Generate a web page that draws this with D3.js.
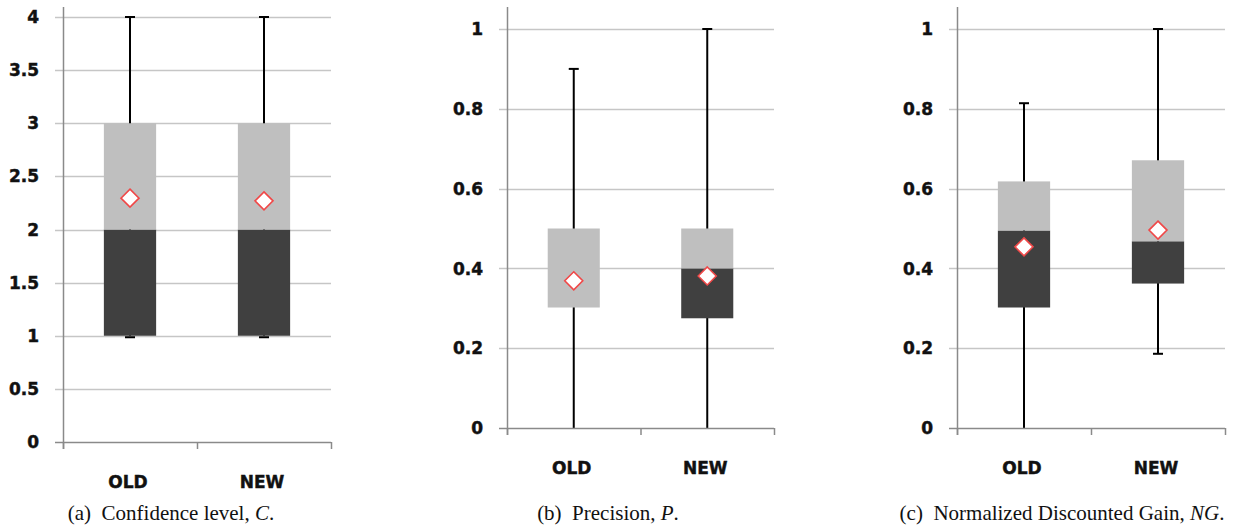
<!DOCTYPE html>
<html><head><meta charset="utf-8">
<script src="https://cdn.jsdelivr.net/npm/d3@7"></script>
<style>
html,body{margin:0;padding:0;background:#fff;}
svg{display:block;}
.tick-label{font-family:"DejaVu Sans",Verdana,sans-serif;font-weight:bold;font-size:17px;fill:#111;stroke:#111;stroke-width:0.45px;}
.cap{font-family:"Liberation Serif","Times New Roman",serif;font-size:21px;fill:#111;white-space:pre;}
</style>
</head><body>
<script>
// ---- data ----
const categories = ["OLD", "NEW"];
// panel (a) Confidence level C
const confMin    = [1, 1];
const confQ1     = [1, 1];
const confMedian = [2, 2];
const confQ3     = [3, 3];
const confMax    = [4, 4];
const confMean   = [2.295, 2.27];
const confTicks  = [0, 0.5, 1, 1.5, 2, 2.5, 3, 3.5, 4];
// panel (b) Precision P
const precMin    = [0, 0];
const precQ1     = [0.302, 0.275];
const precMedian = [0.302, 0.4];
const precQ3     = [0.5, 0.5];
const precMax    = [0.9, 1];
const precMean   = [0.369, 0.381];
const precTicks  = [0, 0.2, 0.4, 0.6, 0.8, 1];
// panel (c) Normalized Discounted Gain NG
const ngMin    = [0, 0.186];
const ngQ1     = [0.302, 0.362];
const ngMedian = [0.495, 0.468];
const ngQ3     = [0.618, 0.671];
const ngMax    = [0.814, 1];
const ngMean   = [0.454, 0.496];
const ngTicks  = [0, 0.2, 0.4, 0.6, 0.8, 1];

const captions = [
  {pre: "(a)  Confidence level, ", it: "C", post: "."},
  {pre: "(b)  Precision, ", it: "P", post: "."},
  {pre: "(c)  Normalized Discounted Gain, ", it: "NG", post: "."}
];

const W = 1237, H = 530;
const svg = d3.select("body").append("svg").attr("width", W).attr("height", H);

const panels = [
  {x0: 63,  x1: 331,  y0: 442, y1: 17, top: 7, dmax: 4, ticks: confTicks, fmt: d => String(d),
   min: confMin, q1: confQ1, med: confMedian, q3: confQ3, max: confMax, mean: confMean, catY: 488, capX: 171},
  {x0: 507, x1: 774,  y0: 428, y1: 29, top: 7, dmax: 1, ticks: precTicks, fmt: d => String(d),
   min: precMin, q1: precQ1, med: precMedian, q3: precQ3, max: precMax, mean: precMean, catY: 474, capX: 608},
  {x0: 957, x1: 1225, y0: 428, y1: 29, top: 7, dmax: 1, ticks: ngTicks, fmt: d => String(d),
   min: ngMin, q1: ngQ1, med: ngMedian, q3: ngQ3, max: ngMax, mean: ngMean, catY: 474, capX: 1062}
];

const gridCol = "#c6c6c6", axisCol = "#8a8a8a";

panels.forEach((p, pi) => {
  const g = svg.append("g");
  const y = d3.scaleLinear().domain([0, p.dmax]).range([p.y0, p.y1]);
  const x = d3.scaleBand().domain(categories).range([p.x0, p.x1]).padding(0);
  const bw = x.bandwidth();
  const boxW = bw * 0.39;

  // gridlines + y tick marks
  g.selectAll("line.grid").data(p.ticks.filter(t => t > 0)).enter().append("line")
    .attr("x1", p.x0 - 8).attr("x2", p.x1)
    .attr("y1", d => Math.round(y(d)) + 0.5).attr("y2", d => Math.round(y(d)) + 0.5)
    .attr("stroke", gridCol).attr("stroke-width", 1.5);

  // y tick labels
  g.selectAll("text.yl").data(p.ticks).enter().append("text")
    .attr("class", "tick-label")
    .attr("x", p.x0 - 24).attr("y", d => y(d)).attr("dy", "0.36em")
    .attr("text-anchor", "end").text(p.fmt);

  const data = categories.map((c, i) => ({c, min: p.min[i], q1: p.q1[i], med: p.med[i], q3: p.q3[i], max: p.max[i], mean: p.mean[i]}));

  // whiskers
  g.selectAll("line.wh").data(data).enter().append("line")
    .attr("x1", d => x(d.c) + bw / 2).attr("x2", d => x(d.c) + bw / 2)
    .attr("y1", d => y(d.min)).attr("y2", d => y(d.max))
    .attr("stroke", "#000").attr("stroke-width", 2);
  // caps
  const caps = [];
  data.forEach(d => { caps.push({c: d.c, v: d.max, off: 0}); if (d.min > 0) caps.push({c: d.c, v: d.min, off: d.min === d.q1 ? 1.5 : 0}); });
  g.selectAll("line.capl").data(caps).enter().append("line")
    .attr("x1", d => x(d.c) + bw / 2 - 5).attr("x2", d => x(d.c) + bw / 2 + 5)
    .attr("y1", d => y(d.v) + d.off).attr("y2", d => y(d.v) + d.off)
    .attr("stroke", "#000").attr("stroke-width", 2);

  // lower box (Q1 -> median), dark
  g.selectAll("rect.lo").data(data).enter().append("rect")
    .attr("x", d => x(d.c) + (bw - boxW) / 2).attr("width", boxW)
    .attr("y", d => y(d.med)).attr("height", d => y(d.q1) - y(d.med))
    .attr("fill", "#404040");
  // upper box (median -> Q3), light
  g.selectAll("rect.hi").data(data).enter().append("rect")
    .attr("x", d => x(d.c) + (bw - boxW) / 2).attr("width", boxW)
    .attr("y", d => y(d.q3)).attr("height", d => y(d.med) - y(d.q3))
    .attr("fill", "#bfbfbf");

  // mean diamonds
  const s = 9;
  g.selectAll("path.mean").data(data).enter().append("path")
    .attr("d", d => {
      const cx = x(d.c) + bw / 2, cy = y(d.mean);
      return `M${cx},${cy - s}L${cx + s},${cy}L${cx},${cy + s}L${cx - s},${cy}Z`;
    })
    .attr("fill", "#fff").attr("stroke", "#f04848").attr("stroke-width", 1.6);

  // axes lines
  g.append("line").attr("x1", p.x0 + 0.5).attr("x2", p.x0 + 0.5).attr("y1", p.top).attr("y2", p.y0 + 7)
    .attr("stroke", axisCol).attr("stroke-width", 1.5);
  g.append("line").attr("x1", p.x0 - 8).attr("x2", p.x1).attr("y1", p.y0 + 0.5).attr("y2", p.y0 + 0.5)
    .attr("stroke", axisCol).attr("stroke-width", 1.5);
  // x tick marks at band edges
  const edges = categories.map(c => x(c)).concat([p.x1]);
  g.selectAll("line.xt").data(edges).enter().append("line")
    .attr("x1", d => d + 0.5).attr("x2", d => d + 0.5).attr("y1", p.y0).attr("y2", p.y0 + 7)
    .attr("stroke", axisCol).attr("stroke-width", 1.5);

  // category labels
  g.selectAll("text.cat").data(categories).enter().append("text")
    .attr("class", "tick-label")
    .attr("x", d => x(d) + bw / 2 - 2).attr("y", p.catY)
    .attr("text-anchor", "middle").text(d => d);

  // caption
  const cap = captions[pi];
  const t = g.append("text").attr("class", "cap").attr("x", p.capX).attr("y", 520).attr("text-anchor", "middle");
  t.append("tspan").text(cap.pre);
  t.append("tspan").attr("font-style", "italic").text(cap.it);
  t.append("tspan").text(cap.post);
});
</script>
</body></html>
